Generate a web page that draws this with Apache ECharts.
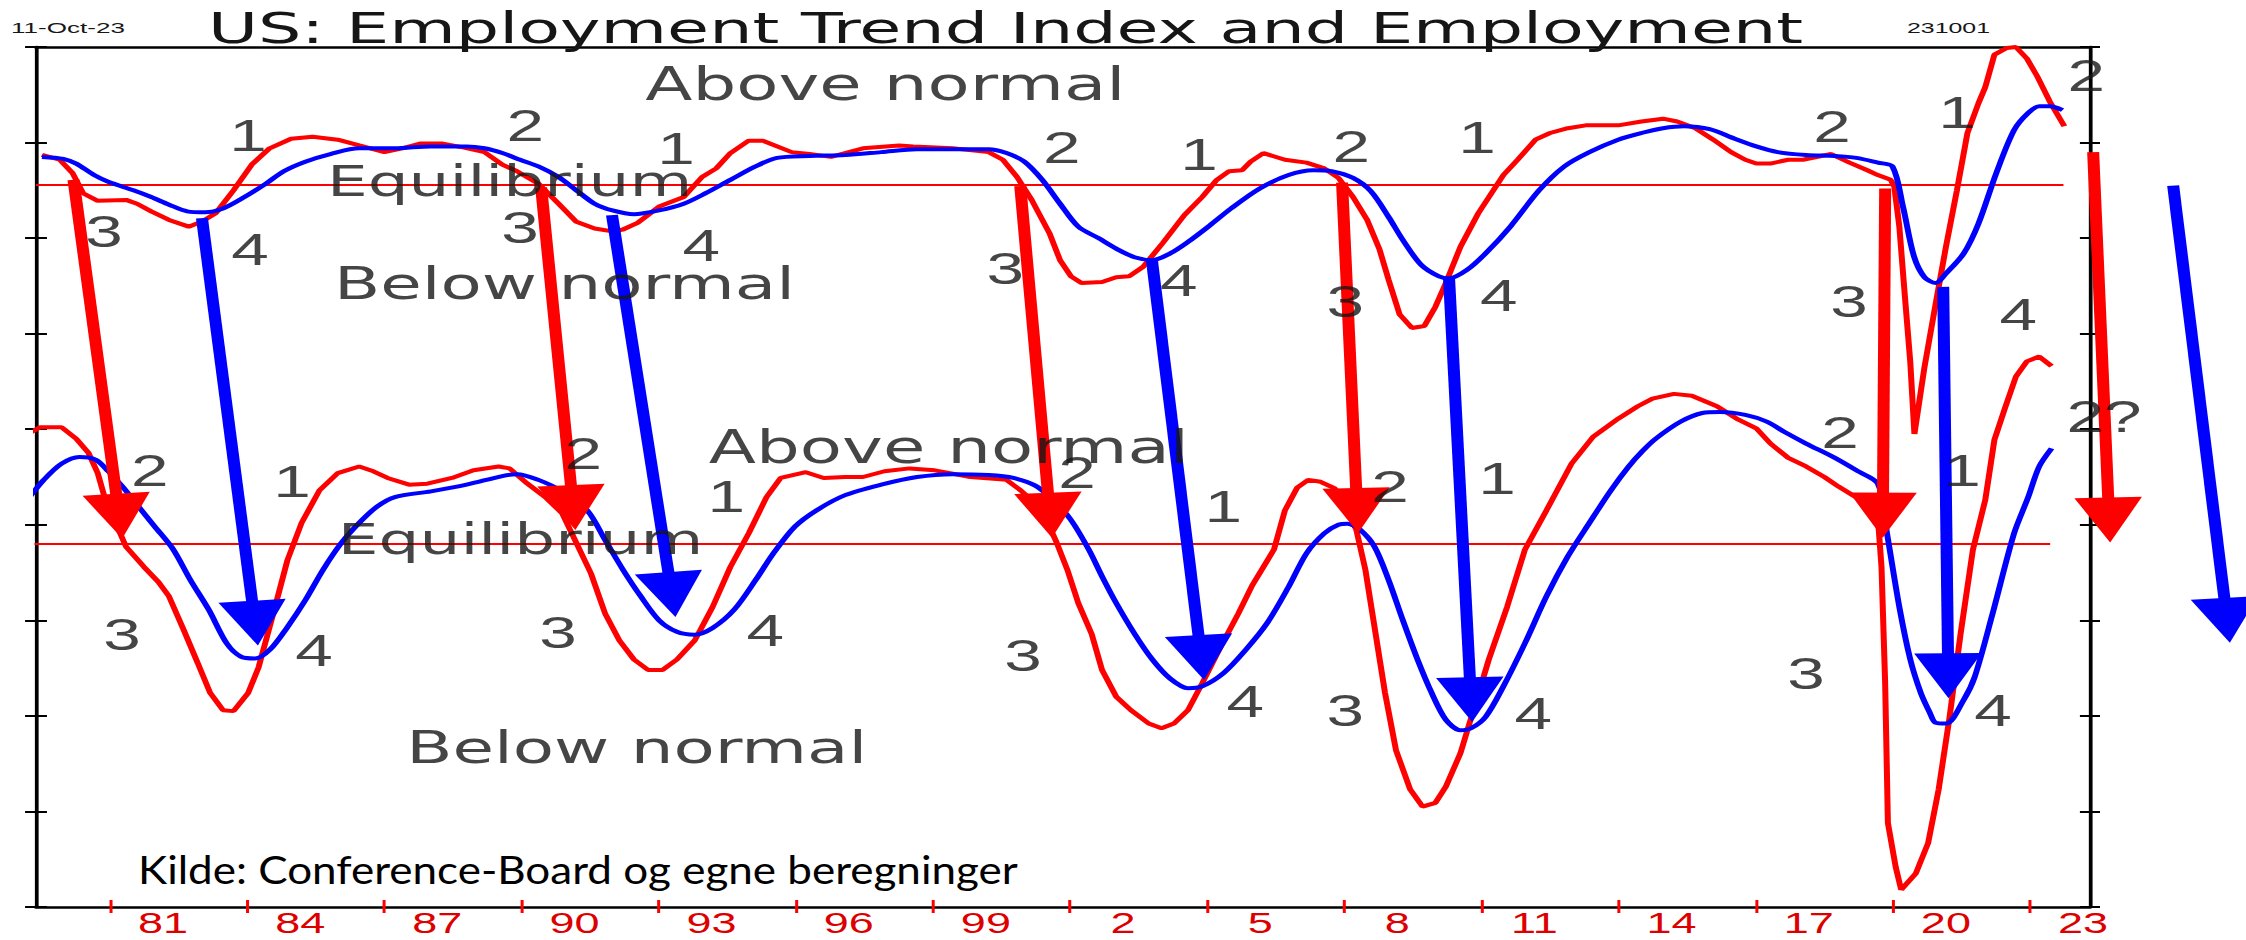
<!DOCTYPE html>
<html>
<head>
<meta charset="utf-8">
<script src="https://cdn.jsdelivr.net/npm/echarts@6.0.0/dist/echarts.min.js"></script>
<style>
html,body{margin:0;padding:0;background:#fff;overflow:hidden;width:2246px;height:940px;}
#wrap{position:absolute;left:0;top:0;width:1497px;height:940px;transform:scaleX(1.50033);transform-origin:0 0;}
#chart{width:1497px;height:940px;}
</style>
</head>
<body>
<div id="wrap"><div id="chart"></div></div>
<script>
// ---------------- DATA ----------------
const tickYears = [1981, 1984, 1987, 1990, 1993, 1996, 1999, 2002, 2005, 2008, 2011, 2014, 2017, 2020, 2023];
const tickLabels = ['81', '84', '87', '90', '93', '96', '99', '2', '5', '8', '11', '14', '17', '20', '23'];

// Employment Trend Index (upper panel, red)
const etiIndex = [[1979.51,7.87],[1979.90,7.82],[1980.18,7.68],[1980.41,7.47],[1980.73,7.39],[1981.35,7.40],[1981.59,7.36],[1981.90,7.28],[1982.29,7.19],[1982.72,7.12],[1983.00,7.17],[1983.31,7.26],[1983.70,7.50],[1984.10,7.77],[1984.49,7.94],[1984.96,8.04],[1985.43,8.06],[1985.98,8.03],[1986.45,7.97],[1987.00,7.90],[1987.39,7.94],[1987.78,7.99],[1988.25,7.99],[1988.72,7.95],[1989.19,7.90],[1989.58,7.77],[1989.90,7.70],[1990.37,7.57],[1990.81,7.36],[1991.20,7.17],[1991.60,7.10],[1991.99,7.07],[1992.22,7.09],[1992.54,7.16],[1993.01,7.33],[1993.55,7.43],[1993.95,7.64],[1994.26,7.73],[1994.57,7.89],[1994.97,8.02],[1995.28,8.02],[1995.91,7.90],[1996.30,7.88],[1996.77,7.85],[1997.08,7.89],[1997.47,7.94],[1998.26,7.97],[1998.57,7.96],[1999.43,7.94],[2000.22,7.90],[2000.53,7.82],[2000.84,7.64],[2001.16,7.40],[2001.55,7.05],[2001.78,6.77],[2002.02,6.60],[2002.25,6.53],[2002.70,6.54],[2003.01,6.59],[2003.29,6.60],[2003.60,6.70],[2004.03,6.95],[2004.50,7.24],[2004.89,7.43],[2005.21,7.61],[2005.48,7.70],[2005.76,7.71],[2005.95,7.80],[2006.23,7.89],[2006.70,7.82],[2007.17,7.79],[2007.56,7.73],[2007.87,7.63],[2008.19,7.43],[2008.50,7.19],[2008.77,6.88],[2008.97,6.56],[2009.21,6.20],[2009.48,6.06],[2009.75,6.08],[2009.99,6.28],[2010.22,6.53],[2010.54,6.91],[2010.93,7.26],[2011.48,7.66],[2011.79,7.82],[2012.18,8.03],[2012.50,8.10],[2012.89,8.15],[2013.28,8.18],[2013.99,8.18],[2014.50,8.22],[2014.97,8.25],[2015.28,8.22],[2015.68,8.15],[2016.07,8.03],[2016.46,7.90],[2016.77,7.82],[2017.01,7.78],[2017.32,7.78],[2017.71,7.82],[2018.03,7.82],[2018.65,7.88],[2019.05,7.79],[2019.44,7.71],[2019.67,7.66],[2019.95,7.61],[2020.03,7.54],[2020.14,7.12],[2020.26,6.40],[2020.38,5.70],[2020.47,4.95],[2020.69,5.65],[2020.93,6.30],[2021.16,6.91],[2021.40,7.50],[2021.63,8.10],[2021.87,8.41],[2022.02,8.58],[2022.22,8.92],[2022.49,8.99],[2022.69,9.00],[2022.93,8.88],[2023.16,8.69],[2023.43,8.43],[2023.75,8.17]];

// Employment Trend Index, trend (upper panel, blue)
const etiTrend = [[1979.51,7.85],[1979.98,7.83],[1980.26,7.78],[1980.65,7.66],[1980.96,7.59],[1981.51,7.50],[1981.90,7.43],[1982.29,7.35],[1982.69,7.28],[1983.08,7.27],[1983.47,7.31],[1983.94,7.43],[1984.41,7.57],[1984.80,7.70],[1985.27,7.80],[1985.82,7.88],[1986.45,7.94],[1987.23,7.94],[1988.01,7.96],[1988.80,7.96],[1989.19,7.94],[1989.58,7.89],[1989.97,7.82],[1990.37,7.75],[1990.81,7.64],[1991.20,7.50],[1991.60,7.36],[1991.99,7.29],[1992.46,7.25],[1993.01,7.29],[1993.55,7.36],[1994.03,7.47],[1994.57,7.61],[1995.12,7.75],[1995.59,7.84],[1996.30,7.86],[1997.08,7.87],[1997.87,7.90],[1998.65,7.93],[1999.43,7.93],[2000.22,7.93],[2000.61,7.89],[2001.00,7.80],[2001.39,7.61],[2001.78,7.36],[2002.18,7.12],[2002.62,7.00],[2003.01,6.89],[2003.41,6.80],[2003.80,6.77],[2004.19,6.84],[2004.58,6.96],[2005.05,7.13],[2005.52,7.31],[2006.15,7.52],[2006.78,7.66],[2007.32,7.71],[2007.72,7.70],[2008.19,7.63],[2008.58,7.49],[2008.97,7.22],[2009.28,6.98],[2009.68,6.72],[2010.07,6.60],[2010.30,6.58],[2010.69,6.67],[2011.09,6.84],[2011.63,7.12],[2012.26,7.50],[2012.81,7.75],[2013.36,7.90],[2013.99,8.03],[2014.50,8.10],[2014.97,8.15],[2015.44,8.17],[2015.99,8.14],[2016.54,8.04],[2017.01,7.96],[2017.48,7.90],[2018.10,7.87],[2018.73,7.86],[2019.20,7.84],[2019.67,7.79],[2019.99,7.75],[2020.22,7.33],[2020.46,6.81],[2020.69,6.59],[2020.93,6.53],[2021.16,6.63],[2021.55,6.84],[2021.87,7.15],[2022.26,7.68],[2022.65,8.13],[2022.96,8.31],[2023.20,8.38],[2023.43,8.38],[2023.71,8.34]];

// Employment (lower panel, red)
const employment = [[1979.24,4.96],[1979.47,5.02],[1979.94,5.02],[1980.26,4.90],[1980.53,4.75],[1980.73,4.54],[1980.88,4.29],[1981.12,4.02],[1981.35,3.77],[1981.74,3.56],[1982.06,3.40],[1982.29,3.25],[1982.61,2.90],[1982.92,2.55],[1983.19,2.24],[1983.47,2.06],[1983.70,2.05],[1984.02,2.24],[1984.25,2.51],[1984.57,3.07],[1984.88,3.63],[1985.19,4.02],[1985.58,4.36],[1985.98,4.54],[1986.45,4.61],[1986.76,4.56],[1987.07,4.49],[1987.54,4.42],[1987.94,4.43],[1988.48,4.49],[1988.95,4.57],[1989.50,4.61],[1989.74,4.59],[1990.13,4.43],[1990.52,4.29],[1990.89,4.12],[1991.20,3.81],[1991.52,3.49],[1991.83,3.07],[1992.14,2.79],[1992.46,2.59],[1992.77,2.48],[1993.08,2.48],[1993.40,2.59],[1993.79,2.79],[1994.18,3.14],[1994.57,3.56],[1994.97,3.91],[1995.36,4.29],[1995.67,4.49],[1996.22,4.55],[1996.61,4.49],[1997.08,4.50],[1997.47,4.50],[1997.94,4.56],[1998.49,4.59],[1999.04,4.57],[1999.82,4.50],[2000.61,4.47],[2000.92,4.36],[2001.24,4.22],[2001.55,3.98],[2001.71,3.81],[2001.94,3.53],[2002.18,3.18],[2002.47,2.86],[2002.70,2.48],[2003.01,2.20],[2003.33,2.06],[2003.72,1.92],[2004.00,1.87],[2004.27,1.92],[2004.58,2.06],[2004.89,2.34],[2005.29,2.72],[2005.68,3.07],[2005.99,3.37],[2006.46,3.74],[2006.70,4.15],[2006.97,4.39],[2007.21,4.47],[2007.48,4.45],[2007.79,4.38],[2008.03,4.19],[2008.26,3.95],[2008.46,3.53],[2008.66,2.93],[2008.89,2.24],[2009.13,1.64],[2009.44,1.23],[2009.71,1.05],[2009.99,1.09],[2010.22,1.26],[2010.54,1.61],[2010.85,2.10],[2011.16,2.59],[2011.56,3.14],[2011.95,3.74],[2012.42,4.15],[2012.97,4.64],[2013.44,4.92],[2013.99,5.11],[2014.42,5.24],[2014.74,5.32],[2015.21,5.37],[2015.60,5.35],[2016.15,5.24],[2016.62,5.10],[2017.01,5.01],[2017.32,4.85],[2017.71,4.70],[2018.10,4.61],[2018.50,4.50],[2018.81,4.40],[2019.12,4.31],[2019.44,4.22],[2019.67,4.08],[2019.75,3.56],[2019.83,2.34],[2019.89,0.88],[2020.06,0.42],[2020.18,0.18],[2020.50,0.35],[2020.77,0.67],[2021.00,1.23],[2021.24,1.99],[2021.48,2.86],[2021.75,3.74],[2022.02,4.26],[2022.22,4.89],[2022.45,5.22],[2022.69,5.55],[2022.93,5.71],[2023.20,5.76],[2023.47,5.66]];

// Employment, trend (lower panel, blue)
const employmentTrend = [[1979.24,4.29],[1979.55,4.47],[1979.94,4.64],[1980.33,4.71],[1980.69,4.68],[1980.96,4.56],[1981.27,4.40],[1981.59,4.21],[1981.98,3.98],[1982.37,3.75],[1982.76,3.42],[1983.16,3.11],[1983.55,2.76],[1983.86,2.62],[1984.17,2.60],[1984.49,2.69],[1984.88,2.93],[1985.27,3.21],[1985.66,3.53],[1986.06,3.81],[1986.45,4.02],[1986.84,4.19],[1987.23,4.29],[1988.02,4.35],[1988.80,4.42],[1989.58,4.51],[1989.90,4.53],[1990.37,4.47],[1990.89,4.35],[1991.44,4.15],[1991.83,3.84],[1992.22,3.53],[1992.61,3.25],[1993.01,3.00],[1993.40,2.88],[1993.79,2.85],[1994.18,2.92],[1994.65,3.11],[1995.12,3.42],[1995.51,3.70],[1995.98,3.98],[1996.45,4.15],[1997.08,4.31],[1997.87,4.42],[1998.65,4.50],[1999.43,4.53],[2000.22,4.52],[2000.76,4.49],[2001.24,4.41],[2001.63,4.26],[2002.02,4.05],[2002.41,3.74],[2002.71,3.45],[2003.01,3.18],[2003.41,2.86],[2003.80,2.59],[2004.19,2.39],[2004.58,2.29],[2004.89,2.31],[2005.36,2.45],[2005.84,2.69],[2006.31,2.97],[2006.78,3.35],[2007.17,3.70],[2007.56,3.91],[2007.87,4.00],[2008.07,4.01],[2008.34,3.95],[2008.66,3.77],[2008.97,3.42],[2009.28,3.00],[2009.60,2.59],[2009.91,2.24],[2010.22,1.96],[2010.54,1.85],[2010.77,1.87],[2011.09,1.99],[2011.48,2.31],[2011.95,2.76],[2012.42,3.25],[2012.89,3.67],[2013.36,4.02],[2013.83,4.36],[2014.22,4.61],[2014.52,4.77],[2014.81,4.90],[2015.36,5.08],[2015.83,5.17],[2016.22,5.18],[2016.77,5.15],[2017.24,5.08],[2017.63,4.97],[2018.10,4.85],[2018.73,4.70],[2019.20,4.57],[2019.67,4.43],[2019.87,3.91],[2020.14,3.14],[2020.38,2.59],[2020.61,2.24],[2020.81,2.03],[2020.93,1.93],[2021.16,1.92],[2021.55,2.17],[2021.79,2.41],[2022.18,3.07],[2022.65,3.91],[2022.96,4.29],[2023.20,4.61],[2023.47,4.80]];

// Equilibrium reference lines
const equilibriumTop = [[1979.38, 7.555], [2023.73, 7.555]];
const equilibriumBottom = [[1979.10, 3.80], [2023.44, 3.80]];

// Lead arrows: [start, arrowhead] in (year, value)
const redArrows = [
  [[1980.20, 7.61], [1981.20, 4.09]],
  [[1990.43, 7.53], [1991.13, 4.18]],
  [[2000.91, 7.545], [2001.56, 4.10]],
  [[2007.95, 7.58], [2008.28, 4.15]],
  [[2019.83, 7.52], [2019.78, 4.10]],
  [[2024.38, 7.90], [2024.73, 4.05]]
];
const blueArrows = [
  [[1983.01, 7.21], [1984.17, 2.97]],
  [[1991.98, 7.24], [1993.29, 3.27]],
  [[2003.79, 6.77], [2004.87, 2.61]],
  [[2010.29, 6.58], [2010.77, 2.17]],
  [[2021.10, 6.49], [2021.21, 2.42]],
  [[2026.13, 7.55], [2027.31, 3.00]]
];

// Cycle phase annotations (year, value, text)
const phaseLabels = [
  [1980.87, 7.07, '3'], [1984.02, 8.08, '1'], [1984.06, 6.88, '4'], [1990.08, 8.18, '2'], [1989.97, 7.11, '3'],
  [1993.38, 7.94, '1'], [1993.93, 6.92, '4'], [2001.82, 7.95, '2'], [2000.58, 6.68, '3'], [2004.82, 7.88, '1'],
  [2008.15, 7.96, '2'], [2004.38, 6.56, '4'], [2008.02, 6.34, '3'], [2010.90, 8.05, '1'], [2011.38, 6.40, '4'],
  [2018.67, 8.17, '2'], [2021.40, 8.32, '1'], [2019.04, 6.34, '3'], [2022.74, 6.20, '4'], [2024.23, 8.70, '2'],
  [1981.87, 4.57, '2'], [1984.98, 4.46, '1'], [1981.26, 2.85, '3'], [1985.46, 2.69, '4'], [1991.35, 4.75, '2'],
  [1994.48, 4.30, '1'], [1990.80, 2.87, '3'], [1995.33, 2.90, '4'], [2002.15, 4.55, '2'], [2000.97, 2.63, '3'],
  [2005.35, 4.19, '1'], [2009.00, 4.40, '2'], [2005.83, 2.15, '4'], [2008.02, 2.06, '3'], [2011.34, 4.49, '1'],
  [2012.13, 2.03, '4'], [2018.84, 4.97, '2'], [2018.10, 2.45, '3'], [2021.51, 4.57, '1'], [2022.19, 2.06, '4'],
  [2024.62, 5.14, '2?']
];
// Region annotations (year, value, text)
const regionLabels = [
  [1997.96, 8.61, 'Above normal'], [1989.74, 7.60, 'Equilibrium'], [1990.94, 6.52, 'Below normal'],
  [1999.35, 4.81, 'Above normal'], [1989.98, 3.85, 'Equilibrium'], [1992.52, 1.67, 'Below normal']
];

const titleText = 'US: Employment Trend Index and Employment';
const dateText = '11-Oct-23';
const codeText = '231001';
const sourceText = 'Kilde: Conference-Board og egne beregninger';

// ---------------- STYLE / LAYOUT ----------------
const S = 2246 / 1497; // horizontal stretch of the whole picture
const RED = '#ff0000', BLUE = '#0000ff', INK = '#161616';
const regionFont = { 'Above normal': 46, 'Equilibrium': 43, 'Below normal': 45 };

const measureCtx = document.createElement('canvas').getContext('2d');
function fitScale(text, font, targetFullWidth) {
  measureCtx.font = font;
  const w = measureCtx.measureText(text).width;
  return (targetFullWidth / S) / w;
}
function tickLabel(v) {
  const i = tickYears.indexOf(Math.round(v));
  return i >= 0 ? tickLabels[i] : '';
}

const X_MIN = 1979.38, X_MAX = 2024.31;
function xAx(extra) {
  return Object.assign({
    type: 'value', min: X_MIN, max: X_MAX,
    splitLine: { show: false }, axisLabel: { show: false }, axisTick: { show: false },
    axisLine: { show: false }
  }, extra);
}
function yAx(extra) {
  return Object.assign({
    type: 'value', min: 0, max: 9, interval: 1,
    splitLine: { show: false }, axisLabel: { show: false }
  }, extra);
}

const chart = echarts.init(document.getElementById('chart'), null, { renderer: 'svg', width: 1497, height: 940 });

const titleFont = '42.5px "DejaVu Sans"';
const smallFont = '14px "Liberation Sans"';
const srcFont = '39px Lato';

const option = {
  animation: false,
  backgroundColor: '#ffffff',
  grid: { left: 24, right: 104, top: 47, bottom: 33, containLabel: false },
  xAxis: [
    xAx({
      position: 'bottom',
      axisLine: { show: true, onZero: false, lineStyle: { color: '#000', width: 2.5 } },
      axisTick: { show: true, inside: false, length: 6, customValues: tickYears, lineStyle: { color: RED, width: 2 } },
      axisLabel: {
        show: true, customValues: tickYears, formatter: tickLabel, margin: 0.5,
        showMinLabel: true, showMaxLabel: true, hideOverlap: false,
        padding: [0, 0, 0, 70.6], color: '#dd0000', fontFamily: 'Liberation Sans', fontSize: 30
      }
    }),
    xAx({
      position: 'bottom',
      axisTick: { show: true, inside: true, length: 7, customValues: tickYears, lineStyle: { color: RED, width: 2 } }
    }),
    xAx({
      position: 'top',
      axisLine: { show: true, onZero: false, lineStyle: { color: '#000', width: 2.5 } }
    })
  ],
  yAxis: [
    yAx({ position: 'left', axisLine: { show: true, onZero: false, lineStyle: { color: '#000', width: 2.5 } },
          axisTick: { show: true, inside: false, length: 7.3, lineStyle: { color: '#000', width: 2 } } }),
    yAx({ position: 'left', axisLine: { show: false },
          axisTick: { show: true, inside: true, length: 7.3, lineStyle: { color: '#000', width: 2 } } }),
    yAx({ position: 'right', axisLine: { show: true, onZero: false, lineStyle: { color: '#000', width: 2.5 } },
          axisTick: { show: true, inside: false, length: 6.7, lineStyle: { color: '#000', width: 2 } } }),
    yAx({ position: 'right', axisLine: { show: false },
          axisTick: { show: true, inside: true, length: 6.7, lineStyle: { color: '#000', width: 2 } } })
  ],
  series: [
    { name: 'Equilibrium (index)', type: 'line', data: equilibriumTop, symbol: 'none', clip: false, silent: true,
      lineStyle: { color: RED, width: 2 }, z: 1 },
    { name: 'Equilibrium (employment)', type: 'line', data: equilibriumBottom, symbol: 'none', clip: false, silent: true,
      lineStyle: { color: RED, width: 2 }, z: 1 },
    { name: 'Employment Trend Index', type: 'line', data: etiIndex, symbol: 'none', clip: false, silent: true,
      lineStyle: { color: RED, width: 4 }, z: 2 },
    { name: 'Employment Trend Index trend', type: 'line', data: etiTrend, symbol: 'none', clip: false, silent: true,
      smooth: 0.3, lineStyle: { color: BLUE, width: 4 }, z: 2 },
    { name: 'Employment', type: 'line', data: employment, symbol: 'none', clip: false, silent: true,
      lineStyle: { color: RED, width: 4 }, z: 2 },
    { name: 'Employment trend', type: 'line', data: employmentTrend, symbol: 'none', clip: false, silent: true,
      smooth: 0.3, lineStyle: { color: BLUE, width: 4 }, z: 2 },
    { name: 'Lead arrows red', type: 'lines', coordinateSystem: 'cartesian2d', clip: false, silent: true,
      data: redArrows.map(a => ({ coords: a })), symbol: ['none', 'triangle'], symbolSize: 45,
      lineStyle: { color: RED, width: 8, opacity: 1, curveness: 0 }, z: 4 },
    { name: 'Lead arrows blue', type: 'lines', coordinateSystem: 'cartesian2d', clip: false, silent: true,
      data: blueArrows.map(a => ({ coords: a })), symbol: ['none', 'triangle'], symbolSize: 45,
      lineStyle: { color: BLUE, width: 8, opacity: 1, curveness: 0 }, z: 4 },
    { name: 'Phases', type: 'scatter', data: phaseLabels, symbolSize: 0, clip: false, silent: true,
      encode: { x: 0, y: 1 },
      label: { show: true, position: 'inside', formatter: p => p.data[2], fontFamily: 'Liberation Sans',
               fontSize: 45, color: INK }, z: 6 },
    { name: 'Regions', type: 'scatter', symbolSize: 0, clip: false, silent: true, encode: { x: 0, y: 1 },
      data: regionLabels.map(r => ({ value: r, label: { fontSize: regionFont[r[2]] } })),
      label: { show: true, position: 'inside', formatter: p => p.value[2], fontFamily: 'DejaVu Sans',
               fontSize: 44, color: INK }, z: 6 }
  ],
  graphic: [
    { type: 'text', x: 1005.5 / S, y: 28.5, scaleX: fitScale(titleText, titleFont, 1595), z: 10, silent: true,
      style: { text: titleText, font: titleFont, fill: INK, textAlign: 'center', textVerticalAlign: 'middle',
               align: 'center', verticalAlign: 'middle' } },
    { type: 'text', x: 68 / S, y: 28, scaleX: fitScale(dateText, smallFont, 114), z: 10, silent: true,
      style: { text: dateText, font: smallFont, fill: INK, textAlign: 'center', textVerticalAlign: 'middle',
               align: 'center', verticalAlign: 'middle' } },
    { type: 'text', x: 1948.5 / S, y: 28, scaleX: fitScale(codeText, smallFont, 83), z: 10, silent: true,
      style: { text: codeText, font: smallFont, fill: INK, textAlign: 'center', textVerticalAlign: 'middle',
               align: 'center', verticalAlign: 'middle' } },
    { type: 'text', x: 138 / S, y: 869, scaleX: fitScale(sourceText, srcFont, 880), z: 10, silent: true,
      style: { text: sourceText, font: srcFont, fill: '#000', textAlign: 'left', textVerticalAlign: 'middle',
               align: 'left', verticalAlign: 'middle' } }
  ]
};
chart.setOption(option);
</script>
</body>
</html>
